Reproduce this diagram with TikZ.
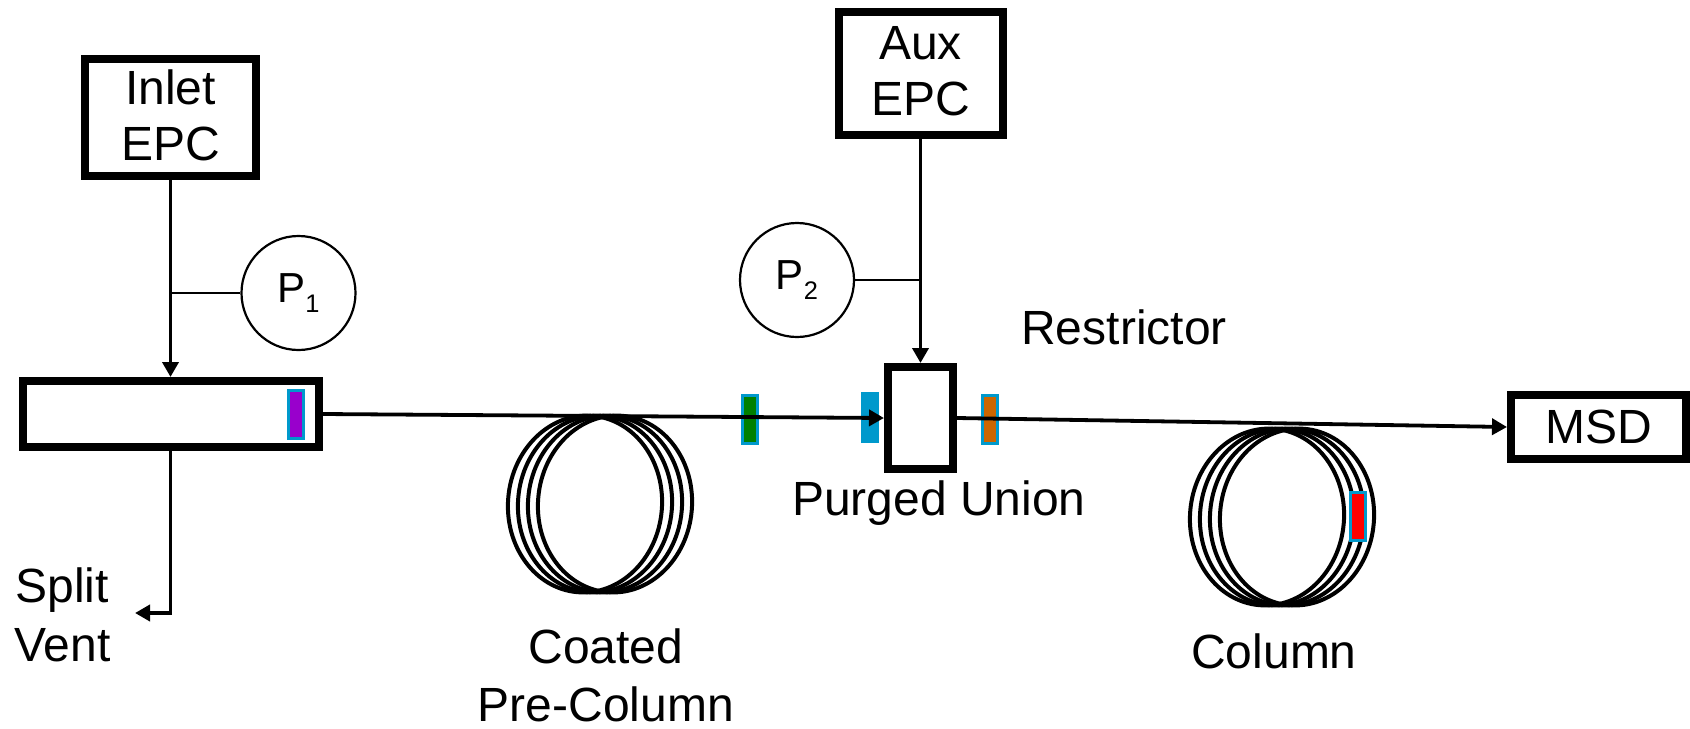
\documentclass[tikz,border=0pt]{standalone}
\usepackage{fontspec}
\setmainfont{Liberation Sans}
\usetikzlibrary{arrows.meta}
\definecolor{bandblue}{RGB}{0,153,204}
\definecolor{bandpurple}{RGB}{153,0,204}
\definecolor{bandgreen}{RGB}{0,128,0}
\definecolor{bandorange}{RGB}{204,102,0}
\newcommand{\lbl}{\fontsize{24}{28}\selectfont}
\newcommand{\gaugelbl}{\fontsize{21}{24}\selectfont}
\newcommand{\subs}[1]{\raisebox{-5pt}{\fontsize{12.7}{15}\selectfont #1}}
\newcommand{\liftlast}{\rule[-2.7pt]{0pt}{2.7pt}}
\tikzset{
  boxnode/.style={draw=black,line width=4pt,fill=white,inner sep=0pt,align=center,font=\lbl},
  gauge/.style={circle,draw=black,line width=1.1pt,fill=white,minimum size=57pt,inner sep=0pt,font=\gaugelbl},
  pipe/.style={line width=1.9pt,draw=black,-{Triangle[length=7.5pt,width=8pt]}},
  tap/.style={line width=1pt,draw=black},
  band/.style={draw=bandblue,line width=1.5pt,inner sep=0pt,minimum width=7.5pt,minimum height=24pt},
  coil/.style={draw=black,line width=2pt},
  lab/.style={inner sep=0pt,font=\lbl,align=center}
}
\begin{document}
\begin{tikzpicture}[x=0.5pt,y=-0.5pt]
\useasboundingbox (0,0) rectangle (1690,728);
% coils
\foreach \dx in {0,10,20,30}{
  \draw[coil,rotate around={-5:(585+\dx,504)}] (585+\dx,504) ellipse [x radius=77,y radius=88.5];
  \draw[coil,rotate around={-5:(1267+\dx,517)}] (1267+\dx,517) ellipse [x radius=77,y radius=88.5];
}
% boxes
\node[boxnode,minimum width=85.5pt,minimum height=58.5pt] (inlet) at (170.5,117.5) {Inlet\\EPC\liftlast};
\node[boxnode,minimum width=82pt,minimum height=61.5pt] (aux) at (920.5,73.5) {Aux\\EPC\liftlast};
\node[boxnode,minimum width=148pt,minimum height=33pt] (bar) at (170.5,414) {};
\node[boxnode,minimum width=32.5pt,minimum height=51pt] (union) at (920.5,418) {};
\node[boxnode,minimum width=87.5pt,minimum height=32pt] (msd) at (1598.5,427) {MSD};
\node[gauge] (p1) at (298.5,293) {P\subs{1}};
\node[gauge] (p2) at (797,280) {P\subs{2}};
% colour bands
\node[band,fill=bandpurple] (bpurple) at (296,414.5) {};
\node[band,fill=bandgreen] (bgreen) at (750,419.5) {};
\node[band,fill=bandblue] (bblue) at (869.5,417.5) {};
\node[band,fill=bandorange] (borange) at (990,419.5) {};
\node[band,fill=red] (bred) at (1358,516) {};
% connector helpers
\coordinate (j1) at (170.5,293);
\coordinate (j2) at (920.5,280);
\coordinate (ventend) at (135,613);
% connectors
\draw[pipe] (inlet.south) -- (bar.north);
\draw[pipe] (aux.south) -- (union.north);
\draw[tap] (p1.west) -- (j1);
\draw[tap] (p2.east) -- (j2);
\draw[pipe] (bar.south) |- (ventend);
\draw[pipe] (bar.east) -- (union.west);
\draw[pipe] (union.east) -- (msd.west);
% labels
\node[lab] (restrictor) at (1124,327) {Restrictor};
\node[lab] (purged) at (939,503) {Purged Union};
\node[lab,anchor=base west] (split) at (15,602) {Split};
\node[lab,anchor=base west] (vent) at (14,661) {Vent};
\node[lab,anchor=base] (coated) at (606,663) {Coated};
\node[lab,anchor=base] (precol) at (606,721) {Pre-Column};
\node[lab] (column) at (1274,651) {Column};
\end{tikzpicture}
\end{document}
